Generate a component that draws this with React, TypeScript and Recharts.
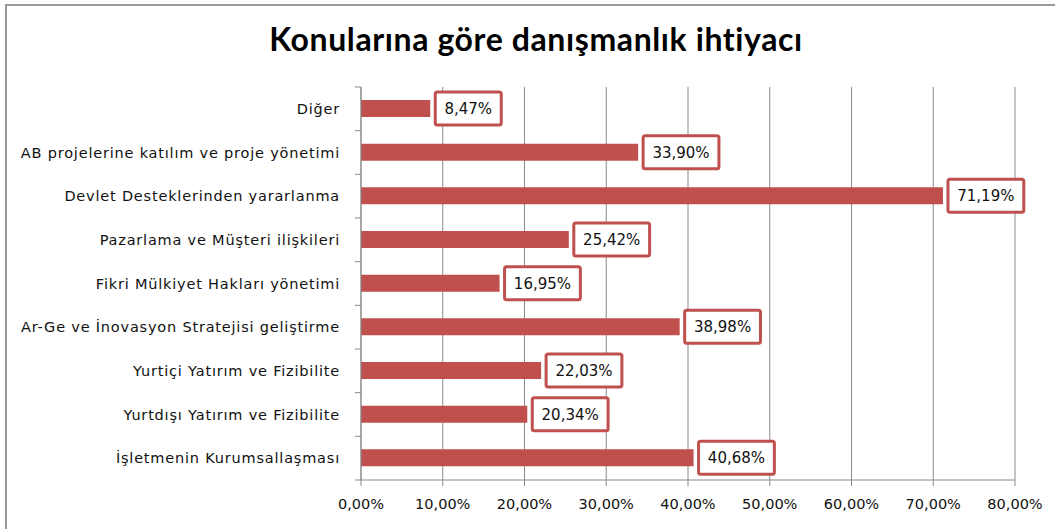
import React from 'react';
import { Bar, BarChart, CartesianGrid, LabelList, XAxis, YAxis } from 'recharts';

const categories = [
  'Diğer',
  'AB projelerine katılım ve proje yönetimi',
  'Devlet Desteklerinden yararlanma',
  'Pazarlama ve Müşteri ilişkileri',
  'Fikri Mülkiyet Hakları yönetimi',
  'Ar-Ge ve İnovasyon Stratejisi geliştirme',
  'Yurtiçi Yatırım ve Fizibilite',
  'Yurtdışı Yatırım ve Fizibilite',
  'İşletmenin Kurumsallaşması',
];
const values = [8.47, 33.9, 71.19, 25.42, 16.95, 38.98, 22.03, 20.34, 40.68];
const xTicks = [0, 10, 20, 30, 40, 50, 60, 70, 80];

const data = categories.map((name, i) => ({ name, value: values[i] }));

const W = 1055;
const H = 529;
const TOP = 87;
const BOTTOM = 480;
const BAND = (BOTTOM - TOP) / categories.length;
const RED = '#C0504D';
const GRID = '#8a8a8a';
const FONT = '"DejaVu Sans", Verdana, sans-serif';

const pct = (v: number) => `${v.toFixed(2).replace('.', ',')}%`;

function CategoryTick(props: any) {
  const { x, y, payload, index } = props;
  return (
    <g>
      <line x1={x - 6} x2={x} y1={y - BAND / 2} y2={y - BAND / 2} stroke={GRID} />
      {index === categories.length - 1 && (
        <line x1={x - 6} x2={x} y1={y + BAND / 2} y2={y + BAND / 2} stroke={GRID} />
      )}
      <text
        x={x - 21}
        y={y}
        dy={5}
        textAnchor="end"
        fontSize={14.5}
        letterSpacing={0.8}
        fontFamily={FONT}
        fill="#111"
      >
        {payload.value}
      </text>
    </g>
  );
}

function ValueLabel(props: any) {
  const { x, y, width, height, value } = props;
  const text = pct(Number(value));
  const w = text.length * 9.8 + 17;
  const bx = x + width + 5;
  const cy = y + height / 2;
  return (
    <g>
      <rect x={bx} y={cy - 16.5} width={w} height={33} fill="#fff" stroke={RED} strokeWidth={3} rx={2} />
      <text x={bx + w / 2} y={cy} dy={5.5} textAnchor="middle" fontSize={15} fontFamily={FONT} fill="#111">
        {text}
      </text>
    </g>
  );
}

export default function App() {
  return (
    <div style={{ position: 'absolute', left: 0, top: 0, width: W, height: H, overflow: 'hidden', background: '#fff' }}>
      <div
        style={{
          position: 'absolute',
          left: 5,
          top: 4,
          width: W + 20,
          height: H + 20,
          border: '2px solid #9a9a9a',
        }}
      />
      <div
        style={{
          position: 'absolute',
          left: 0,
          top: 23,
          width: 1072,
          textAlign: 'center',
          fontFamily: 'Lato, "Open Sans", sans-serif',
          fontWeight: 700,
          fontSize: 32,
          lineHeight: '32px',
          letterSpacing: 0.6,
          color: '#000',
        }}
      >
        Konularına göre danışmanlık ihtiyacı
      </div>
      <div style={{ position: 'absolute', left: 0, top: 0 }}>
        <BarChart
          width={W}
          height={H}
          data={data}
          layout="vertical"
          margin={{ top: TOP, right: 40, bottom: 20, left: 6 }}
        >
          <CartesianGrid horizontal={false} vertical stroke={GRID} />
          <XAxis
            type="number"
            domain={[0, 80]}
            ticks={xTicks}
            tickFormatter={pct}
            height={29}
            stroke={GRID}
            tickSize={6}
            tickMargin={13}
            tick={{ fontSize: 14.5, fontFamily: FONT, fill: '#111' }}
          />
          <YAxis
            type="category"
            dataKey="name"
            width={355}
            stroke={GRID}
            tickLine={false}
            tickSize={0}
            tickMargin={0}
            interval={0}
            tick={<CategoryTick />}
          />
          <Bar dataKey="value" fill={RED} barSize={17} isAnimationActive={false}>
            <LabelList dataKey="value" content={<ValueLabel />} />
          </Bar>
        </BarChart>
      </div>
    </div>
  );
}
